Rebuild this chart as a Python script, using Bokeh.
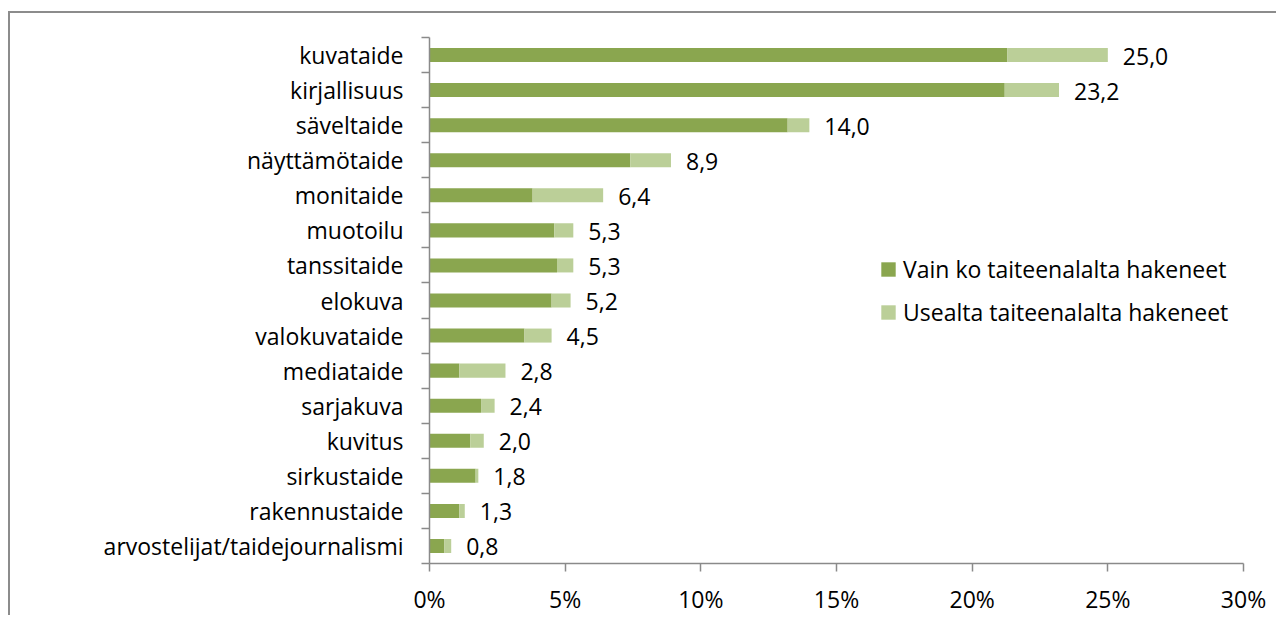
from bokeh.plotting import figure
from bokeh.models import (ColumnDataSource, FixedTicker, Legend, LegendItem, Range1d)
from bokeh.core.properties import value
from bokeh.embed import file_html
from bokeh.resources import INLINE

# ---- data (top = first) ----
categories = ["kuvataide", "kirjallisuus", "säveltaide", "näyttämötaide", "monitaide",
              "muotoilu", "tanssitaide", "elokuva", "valokuvataide", "mediataide",
              "sarjakuva", "kuvitus", "sirkustaide", "rakennustaide",
              "arvostelijat/taidejournalismi"]
vain_ko = [21.3, 21.2, 13.2, 7.4, 3.8, 4.6, 4.7, 4.5, 3.5, 1.1, 1.9, 1.5, 1.7, 1.1, 0.55]
totals = [25.0, 23.2, 14.0, 8.9, 6.4, 5.3, 5.3, 5.2, 4.5, 2.8, 2.4, 2.0, 1.8, 1.3, 0.8]
series_names = ["Vain ko taiteenalalta hakeneet", "Usealta taiteenalalta hakeneet"]
x_ticks = [0, 5, 10, 15, 20, 25, 30]
x_tick_labels = ["0%", "5%", "10%", "15%", "20%", "25%", "30%"]

DARK = "#8aa64f"
LIGHT = "#bbcf98"
GREY = "#8a8a8a"
FONT = "Open Sans"
FS = "23px"

n = len(categories)
pos = [n - 1 - i for i in range(n)]
usealta = [round(t - v, 2) for t, v in zip(totals, vain_ko)]
src = ColumnDataSource(dict(
    y=pos, vain=vain_ko, total=totals, use=usealta,
    lab=[f"{t:.1f}".replace(".", ",") for t in totals],
))

p = figure(width=1268, height=604, output_backend="svg", toolbar_location=None,
           x_range=Range1d(0, 30), y_range=Range1d(-0.5, n - 0.5),
           min_border_left=419, min_border_right=35, min_border_top=24, min_border_bottom=54,
           styles={"border-top": "2px solid #8c8c8c", "border-left": "2px solid #8c8c8c",
                   "margin-top": "11px", "margin-left": "8px"})
p.outline_line_color = None
p.grid.visible = False
p.background_fill_color = "white"

r1 = p.hbar(y="y", left=0, right="vain", height=0.4, source=src,
            fill_color=DARK, line_color=None)
r2 = p.hbar(y="y", left="vain", right="total", height=0.4, source=src,
            fill_color=LIGHT, line_color=None)
p.text(x="total", y="y", text="lab", source=src, x_offset=15, y_offset=1,
       text_align="left", text_baseline="middle",
       text_font=value(FONT), text_font_size=FS, text_color="black")

# x axis
xa = p.xaxis[0]
xa.ticker = FixedTicker(ticks=x_ticks, minor_ticks=[])
xa.major_label_overrides = {t: l for t, l in zip(x_ticks, x_tick_labels)}
xa.axis_line_color = GREY
xa.axis_line_width = 1.5
xa.major_tick_line_color = GREY
xa.major_tick_line_width = 1.5
xa.major_tick_in = 0
xa.major_tick_out = 8
xa.minor_tick_line_color = None
xa.major_label_standoff = 11
xa.major_label_text_font = FONT
xa.major_label_text_font_size = FS
xa.major_label_text_color = "black"

# y axis: labels at centres, ticks at boundaries
ya = p.yaxis[0]
ya.ticker = FixedTicker(ticks=pos, minor_ticks=[i - 0.5 for i in range(n + 1)])
ya.major_label_overrides = {pp: c for pp, c in zip(pos, categories)}
ya.axis_line_color = GREY
ya.axis_line_width = 1.5
ya.major_tick_in = 0
ya.major_tick_out = 0
ya.minor_tick_in = 0
ya.minor_tick_out = 8
ya.minor_tick_line_color = GREY
ya.minor_tick_line_width = 1.5
ya.major_label_standoff = 18
ya.major_label_text_font = FONT
ya.major_label_text_font_size = FS
ya.major_label_text_color = "black"

legend = Legend(items=[LegendItem(label=series_names[0], renderers=[r1]),
                       LegendItem(label=series_names[1], renderers=[r2])],
                location=(450, 235), orientation="vertical",
                glyph_width=18, glyph_height=18, label_standoff=6,
                label_height=28, spacing=11, padding=0, margin=0,
                border_line_color=None, background_fill_alpha=0,
                label_text_font=FONT, label_text_font_size=FS, label_text_color="black")
p.add_layout(legend)

open("out.html", "w").write(file_html(p, INLINE))
